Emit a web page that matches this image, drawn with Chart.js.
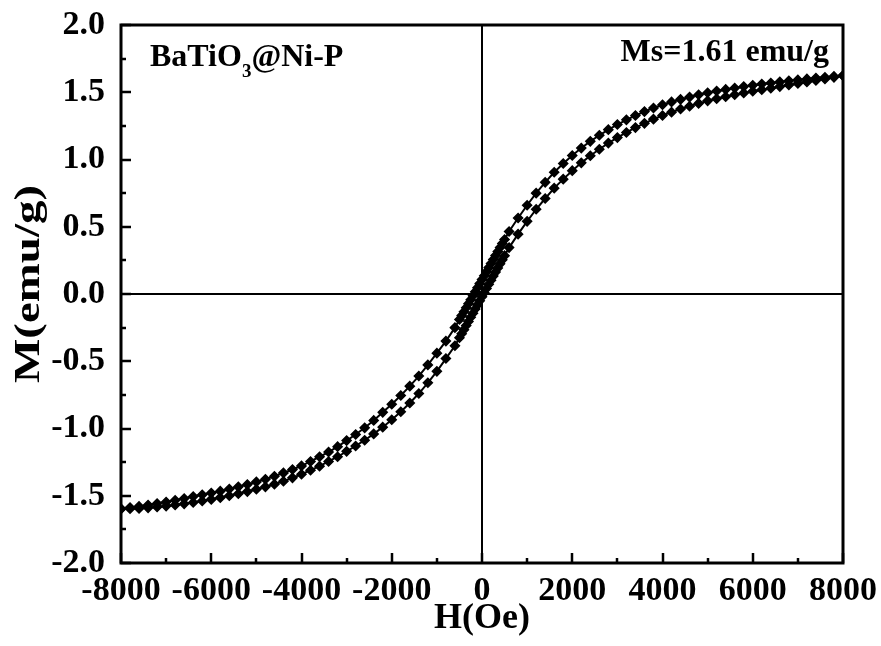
<!DOCTYPE html>
<html>
<head>
<meta charset="utf-8">
<title>BaTiO3@Ni-P M-H loop</title>
<script src="https://cdn.jsdelivr.net/npm/chart.js@4.4.1/dist/chart.umd.min.js"></script>
<style>
  html, body { margin: 0; padding: 0; background: #fff; }
  #wrap { width: 881px; height: 646px; }
</style>
</head>
<body>
<div id="wrap"><canvas id="loopChart" width="881" height="646"></canvas></div>
<script>
// Applied field H (Oe), swept from +8000 down to -8000
const fieldOe = [
  8000, 7800, 7600, 7400, 7200, 7000, 6800, 6600, 6400, 6200,
  6000, 5800, 5600, 5400, 5200, 5000, 4800, 4600, 4400, 4200,
  4000, 3800, 3600, 3400, 3200, 3000, 2800, 2600, 2400, 2200,
  2000, 1800, 1600, 1400, 1200, 1000, 800, 600,
  500, 450, 400, 350, 300, 250, 200, 150, 100, 50, 0,
  -50, -100, -150, -200, -250, -300, -350, -400, -450, -500,
  -600, -800, -1000, -1200, -1400, -1600, -1800, -2000, -2200, -2400,
  -2600, -2800, -3000, -3200, -3400, -3600, -3800, -4000, -4200, -4400,
  -4600, -4800, -5000, -5200, -5400, -5600, -5800, -6000, -6200, -6400,
  -6600, -6800, -7000, -7200, -7400, -7600, -7800, -8000
];

// Magnetisation (emu/g), descending-field branch (upper curve)
const magDown = [
  1.624, 1.618, 1.612, 1.606, 1.599, 1.592, 1.585, 1.577, 1.569, 1.561,
  1.552, 1.542, 1.532, 1.521, 1.509, 1.496, 1.481, 1.464, 1.447, 1.428,
  1.407, 1.383, 1.356, 1.327, 1.295, 1.260, 1.222, 1.180, 1.135, 1.085,
  1.030, 0.970, 0.905, 0.830, 0.750, 0.660, 0.565, 0.465,
  0.405, 0.375, 0.346, 0.316, 0.286, 0.256, 0.226, 0.196, 0.166, 0.136, 0.107,
  0.077, 0.047, 0.017, -0.013, -0.043, -0.072, -0.102, -0.132, -0.161, -0.190,
  -0.250, -0.350, -0.440, -0.527, -0.610, -0.685, -0.755, -0.820, -0.880, -0.940,
  -0.995, -1.045, -1.090, -1.135, -1.175, -1.210, -1.245, -1.278, -1.305, -1.330,
  -1.355, -1.377, -1.397, -1.416, -1.434, -1.450, -1.466, -1.480, -1.493, -1.506,
  -1.520, -1.533, -1.546, -1.558, -1.569, -1.579, -1.588, -1.597
];

// Magnetisation (emu/g), ascending-field branch (lower curve), same H grid
const magUp = [
  1.624, 1.611, 1.599, 1.588, 1.576, 1.565, 1.554, 1.542, 1.530, 1.519,
  1.507, 1.494, 1.481, 1.467, 1.452, 1.436, 1.417, 1.396, 1.375, 1.352,
  1.327, 1.300, 1.269, 1.237, 1.201, 1.163, 1.122, 1.076, 1.028, 0.975,
  0.917, 0.854, 0.787, 0.710, 0.630, 0.540, 0.445, 0.345,
  0.285, 0.254, 0.224, 0.194, 0.163, 0.133, 0.102, 0.072, 0.041, 0.010, -0.020,
  -0.051, -0.081, -0.112, -0.143, -0.173, -0.204, -0.234, -0.265, -0.295, -0.325,
  -0.385, -0.480, -0.575, -0.660, -0.740, -0.810, -0.875, -0.935, -0.990, -1.040,
  -1.087, -1.130, -1.170, -1.210, -1.245, -1.280, -1.310, -1.340, -1.367, -1.392,
  -1.414, -1.434, -1.452, -1.469, -1.485, -1.500, -1.514, -1.527, -1.539, -1.550,
  -1.560, -1.569, -1.577, -1.584, -1.590, -1.594, -1.597, -1.598
];

const xRange = [-8000, 8000];
const yRange = [-2.0, 2.0];
const xMajorStep = 2000, xMinorStep = 1000;
const yMajorStep = 0.5, yMinorStep = 0.25;

const xTitle = 'H(Oe)';
const yTitle = 'M(emu/g)';
const sampleLabel = ['BaTiO', '3', '@Ni-P'];
const msLabel = 'Ms=1.61 emu/g';

const FONT = '"Liberation Serif", "Times New Roman", serif';

// frame + inward major/minor ticks
const frameTicks = {
  id: 'frameTicks',
  afterDraw(chart) {
    const { ctx, chartArea: a, scales: { x, y } } = chart;
    ctx.save();
    ctx.strokeStyle = '#000';
    ctx.lineWidth = 2.5;
    ctx.beginPath();
    for (let v = xRange[0]; v <= xRange[1]; v += xMinorStep) {
      const px = Math.round(x.getPixelForValue(v));
      const len = v % xMajorStep === 0 ? 10 : 5;
      ctx.moveTo(px, a.bottom);
      ctx.lineTo(px, a.bottom - len);
    }
    for (let i = 0; i <= Math.round((yRange[1] - yRange[0]) / yMinorStep); i++) {
      const v = yRange[0] + i * yMinorStep;
      const py = Math.round(y.getPixelForValue(v));
      const len = i % 2 === 0 ? 10 : 5;
      ctx.moveTo(a.left, py);
      ctx.lineTo(a.left + len, py);
    }
    ctx.stroke();
    ctx.lineWidth = 3;
    ctx.strokeRect(a.left, a.top, a.right - a.left, a.bottom - a.top);
    ctx.restore();
  }
};

// text labels inside the plot, plus the (stretched) y title
const plotNotes = {
  id: 'plotNotes',
  afterDraw(chart) {
    const { ctx, chartArea: a } = chart;
    ctx.save();
    ctx.fillStyle = '#000';
    ctx.textBaseline = 'alphabetic';
    ctx.textAlign = 'left';
    ctx.font = 'bold 32px ' + FONT;
    let cx = 150;
    ctx.fillText(sampleLabel[0], cx, 66);
    cx += ctx.measureText(sampleLabel[0]).width;
    ctx.font = 'bold 19px ' + FONT;
    ctx.fillText(sampleLabel[1], cx, 77);
    cx += ctx.measureText(sampleLabel[1]).width;
    ctx.font = 'bold 32px ' + FONT;
    ctx.fillText(sampleLabel[2], cx, 66);

    ctx.font = 'bold 32px ' + FONT;
    ctx.textAlign = 'right';
    ctx.fillText(msLabel, 829, 61);

    // y axis title
    ctx.font = 'bold 36px ' + FONT;
    ctx.textAlign = 'center';
    ctx.textBaseline = 'middle';
    const w = ctx.measureText(yTitle).width;
    ctx.translate(30, 284);
    ctx.rotate(-Math.PI / 2);
    ctx.scale(198 / w, 1);
    ctx.fillText(yTitle, 0, 0);
    ctx.restore();
  }
};

const pts = ys => fieldOe.map((h, i) => ({ x: h, y: ys[i] }));

const branchStyle = {
  showLine: true,
  borderColor: '#000',
  borderWidth: 2,
  backgroundColor: '#000',
  pointStyle: 'rectRot',
  pointRadius: 4.5,
  pointBorderWidth: 1.5,
  pointBorderColor: '#000',
  pointBackgroundColor: '#000'
};

const zeroGrid = ctx => ctx.tick && ctx.tick.value === 0 ? '#000' : 'rgba(0,0,0,0)';
const tickFont = { family: FONT, size: 34, weight: 'bold' };

new Chart(document.getElementById('loopChart'), {
  type: 'scatter',
  data: {
    datasets: [
      Object.assign({ label: 'descending', data: pts(magDown) }, branchStyle),
      Object.assign({ label: 'ascending', data: pts(magUp) }, branchStyle)
    ]
  },
  options: {
    responsive: false,
    devicePixelRatio: 1,
    animation: false,
    layout: { padding: { top: 25, right: 38, left: 0, bottom: 0 } },
    plugins: { legend: { display: false }, tooltip: { enabled: false } },
    scales: {
      x: {
        type: 'linear',
        min: xRange[0], max: xRange[1],
        afterFit: s => { s.height = 83; s.paddingLeft = 0; s.paddingRight = 0; },
        border: { display: false },
        grid: { color: zeroGrid, lineWidth: 2, drawTicks: false },
        ticks: {
          stepSize: xMajorStep, autoSkip: false, maxRotation: 0, padding: 8,
          color: '#000', font: tickFont,
          callback: v => String(v)
        },
        title: {
          display: true, text: xTitle, color: '#000',
          font: { family: FONT, size: 36, weight: 'bold' },
          padding: { top: 0, bottom: 6 }
        }
      },
      y: {
        type: 'linear',
        min: yRange[0], max: yRange[1],
        afterFit: s => { s.width = 121; s.paddingTop = 0; s.paddingBottom = 0; },
        border: { display: false },
        grid: { color: zeroGrid, lineWidth: 2, drawTicks: false },
        ticks: {
          stepSize: yMajorStep, autoSkip: false, padding: 16,
          color: '#000', font: tickFont,
          callback: v => Number(v).toFixed(1)
        }
      }
    }
  },
  plugins: [frameTicks, plotNotes]
});
</script>
</body>
</html>
